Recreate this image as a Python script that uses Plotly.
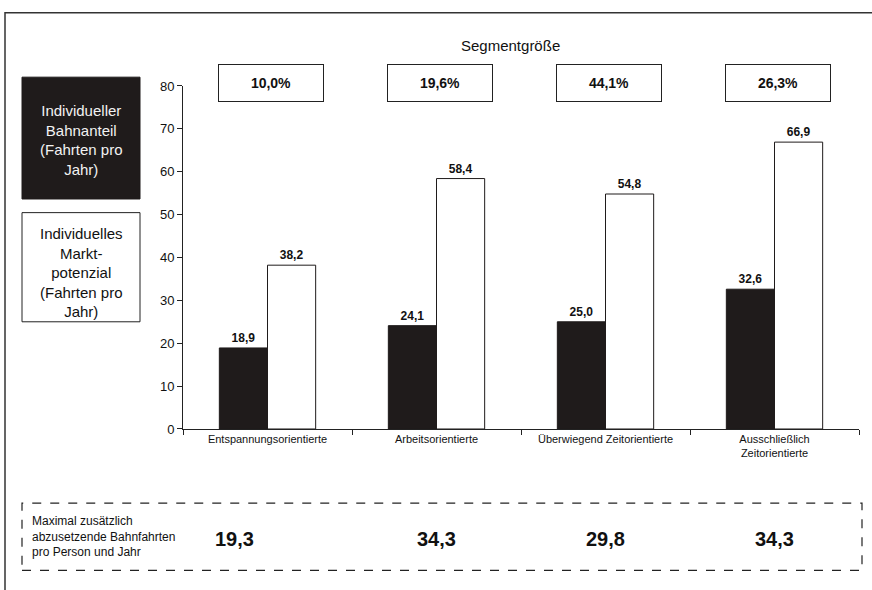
import plotly.graph_objects as go

categories = ["Entspannungsorientierte", "Arbeitsorientierte",
              "Überwiegend Zeitorientierte", "Ausschließlich<br>Zeitorientierte"]
bahnanteil = [18.9, 24.1, 25.0, 32.6]
marktpotenzial = [38.2, 58.4, 54.8, 66.9]
segmentgroesse = ["10,0%", "19,6%", "44,1%", "26,3%"]
zusaetzlich = ["19,3", "34,3", "29,8", "34,3"]
y_ticks = [0, 10, 20, 30, 40, 50, 60, 70, 80]

W, H = 872, 590
FONT = "Liberation Sans, Arial, sans-serif"

def px(x):
    return x / W

def py(y):
    return 1 - y / H

def fmt(v):
    return f"{v:.1f}".replace(".", ",")

fig = go.Figure()
fig.add_trace(go.Bar(
    x=categories, y=bahnanteil, name="Individueller Bahnanteil",
    marker=dict(color="#1f1b1b", line=dict(color="#1f1b1b", width=1)),
    text=[fmt(v) for v in bahnanteil], texttemplate="<b>%{text}</b>",
    textposition="outside", textfont=dict(size=12, color="#111", family=FONT),
    cliponaxis=False,
))
fig.add_trace(go.Bar(
    x=categories, y=marktpotenzial, name="Individuelles Marktpotenzial",
    marker=dict(color="white", line=dict(color="#1f1b1b", width=1)),
    text=[fmt(v) for v in marktpotenzial], texttemplate="<b>%{text}</b>",
    textposition="outside", textfont=dict(size=12, color="#111", family=FONT),
    cliponaxis=False,
))

shapes = []
annotations = []

def note(x, y, text, size, color="#111", xref="paper", **kw):
    d = dict(xref=xref, yref="paper", x=x, y=y, text=text, showarrow=False,
             xanchor="center", yanchor="middle",
             font=dict(size=size, color=color, family=FONT))
    d.update(kw)
    annotations.append(d)

# outer frame (open to the right/bottom as in the scan)
shapes.append(dict(type="rect", xref="paper", yref="paper",
                   x0=px(5), x1=px(900), y0=py(620), y1=py(6),
                   line=dict(color="#333", width=1.5), fillcolor="rgba(0,0,0,0)"))

# legend boxes
shapes.append(dict(type="rect", xref="paper", yref="paper",
                   x0=px(22), x1=px(140), y0=py(197), y1=py(72),
                   line=dict(color="#1f1b1b", width=1), fillcolor="#1f1b1b"))
shapes.append(dict(type="rect", xref="paper", yref="paper",
                   x0=px(22), x1=px(140), y0=py(323), y1=py(211),
                   line=dict(color="#222", width=1), fillcolor="white"))
note(px(81), py(136), "Individueller<br>Bahnanteil<br>(Fahrten pro<br>Jahr)", 15,
     color="#f2f2f2", align="center")
note(px(81), py(272), "Individuelles<br>Markt-<br>potenzial<br>(Fahrten pro<br>Jahr)", 15,
     align="center")

# Segmentgröße title
note(px(511), py(39), "Segmentgröße", 15)

# segment size boxes
for cat, s in zip(categories, segmentgroesse):
    note(cat, py(78), f"<b>{s}</b>", 14, xref="x", xshift=3,
         width=100, height=32, borderpad=2, borderwidth=1,
         bordercolor="#222", bgcolor="white")

# bottom dashed box
shapes.append(dict(type="rect", xref="paper", yref="paper",
                   x0=px(22), x1=px(862), y0=py(578), y1=py(509),
                   line=dict(color="#222", width=1.2, dash="dash"),
                   fillcolor="rgba(0,0,0,0)"))
note(px(30), py(543), "Maximal zusätzlich<br>abzusetzende Bahnfahrten<br>pro Person und Jahr",
     12, xanchor="left", align="left")
for i, (cat, v) in enumerate(zip(categories, zusaetzlich)):
    note(cat, py(546), f"<b>{v}</b>", 20, xref="x", xshift=-33 if i == 0 else 0)

fig.update_layout(
    width=W, height=H,
    margin=dict(l=0, r=0, t=0, b=0),
    paper_bgcolor="white", plot_bgcolor="white",
    barmode="group", bargap=0.43, bargroupgap=0,
    showlegend=False,
    font=dict(family=FONT, color="#111"),
    shapes=shapes, annotations=annotations,
    xaxis=dict(domain=[px(183), px(859)], type="category",
               showline=True, linecolor="#222", linewidth=1,
               ticks="outside", tickson="boundaries", ticklen=5, tickcolor="#222",
               tickfont=dict(size=11, family=FONT, color="#111"),
               showgrid=False, zeroline=False),
    yaxis=dict(domain=[py(433), py(81)], range=[0, 80],
               tickvals=y_ticks, ticktext=[str(t) for t in y_ticks],
               showline=True, linecolor="#222", linewidth=1,
               ticks="outside", ticklen=5, tickcolor="#222",
               tickfont=dict(size=13, family=FONT, color="#111"),
               showgrid=False, zeroline=False),
)

fig.write_html(
    "out.html",
    config={"displayModeBar": False},
    post_script=(
        "document.documentElement.style.margin='0';"
        "document.body.style.margin='0';document.body.style.overflow='hidden';"
        "var d=document.getElementById('{plot_id}');"
        "d.style.position='fixed';d.style.top='0px';d.style.left='0px';"
    ),
)
